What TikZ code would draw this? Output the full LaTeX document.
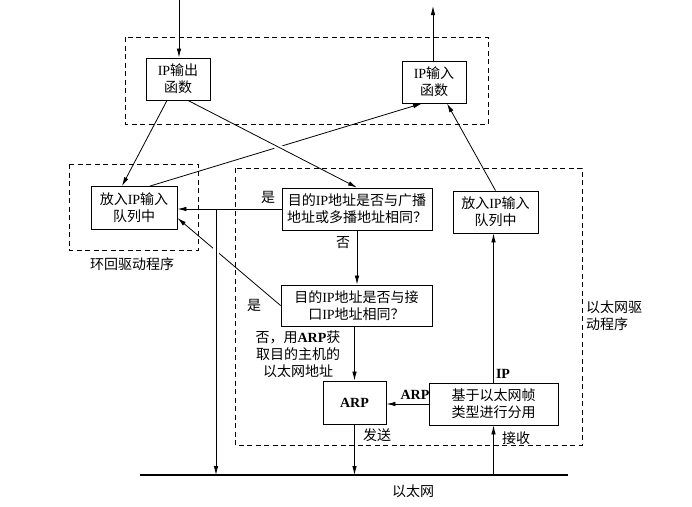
\documentclass[tikz,border=0pt]{standalone}
\usepackage{fontspec}
\setmainfont{Noto Sans CJK SC}
\newfontfamily\lt{Liberation Serif}
\usetikzlibrary{arrows.meta,calc}
\begin{document}
\begin{tikzpicture}[x=1pt,y=-1pt,
  font=\fontsize{14}{17}\selectfont,
  box/.style={draw,line width=0.9pt,align=center,inner sep=0pt},
  dbox/.style={draw,dashed,dash pattern=on 5pt off 3.5pt,line width=0.9pt},
  conn/.style={line width=0.8pt,-{Latex[length=9pt,width=4.5pt]}},
  gap/.style 2 args={preaction={draw=white,line width=6pt,-,shorten <=#1,shorten >=#2}},
  lbl/.style={inner sep=0pt}]
\useasboundingbox (0,0) rectangle (692,506);
% dashed groups
\draw[dbox] (125,37) rectangle (488,124);
\draw[dbox] (69,164) rectangle (198,250);
\draw[dbox] (235,168) rectangle (582,445);
% boxes
\node[box,minimum width=64pt,minimum height=42pt] (outf) at (178,79) {{\lt IP}输出\\函数};
\node[box,minimum width=64pt,minimum height=42pt] (inf) at (434,82) {{\lt IP}输入\\函数};
\node[box,minimum width=86pt,minimum height=43pt] (lq) at (134,208) {放入{\lt IP}输入\\队列中};
\node[box,minimum width=150pt,minimum height=42pt] (bc) at (357,209) {目的{\lt IP}地址是否与广播\\地址或多播地址相同？};
\node[box,minimum width=85pt,minimum height=42pt] (rq) at (495.5,212) {放入{\lt IP}输入\\队列中};
\node[box,minimum width=151pt,minimum height=41pt] (ifc) at (356.5,305.5) {目的{\lt IP}地址是否与接\\口{\lt IP}地址相同？};
\node[box,minimum width=63pt,minimum height=43pt] (arp) at (354.5,402.5) {\lt\bfseries ARP};
\node[box,minimum width=129pt,minimum height=42pt] (dm) at (493.5,404) {基于以太网帧\\类型进行分用};
% ethernet
\coordinate (ethL) at (140,475);
\coordinate (ethR) at (568,475);
\coordinate (inTop) at (179,0);
\coordinate (outTop) at (433,6);
\coordinate (j) at (216,209);
% connectors
\draw[conn] (inTop) -- (inTop |- outf.north);
\draw[conn] (inf.north -| outTop) -- (outTop);
\draw[conn] ([xshift=-11pt]outf.south) -- ([xshift=-12pt]lq.north);
\draw[conn] ([xshift=16pt]lq.north) -- ([xshift=-12pt]inf.south);
\draw[conn,gap={80pt}{70pt}] ([xshift=10pt]outf.south) -- (bc.north);
\draw[conn] (rq.north) -- ([xshift=13pt]inf.south);
\draw[conn] (ifc.west) -- ([yshift=-10pt]lq.east);
\draw[conn,gap={30pt}{200pt}] (j) -- (j |- ethL);
\draw[conn] (bc.west) -- (bc.west -| lq.east);
\draw[conn] (bc.south) -- (bc.south |- ifc.north);
\draw[conn] (arp.north |- ifc.south) -- (arp.north);
\draw[conn] (arp.south) -- (arp.south |- ethL);
\draw[conn] (dm.south |- ethL) -- (dm.south);
\draw[conn] (dm.north) -- (dm.north |- rq.south);
\draw[conn] (dm.west) -- (dm.west -| arp.east);
\draw[line width=2.4pt] (ethL) -- (ethR);
% labels
\node[lbl] (l1) at (268,197) {是};
\node[lbl] (l2) at (254,305) {是};
\node[lbl] (l3) at (343,243) {否};
\node[lbl,align=center] (l4) at (298,354) {否，用{\lt\bfseries ARP}获\\取目的主机的\\以太网地址};
\node[lbl] (l5) at (503,374) {\lt\bfseries IP};
\node[lbl] (l6) at (415,395) {\lt\bfseries ARP};
\node[lbl] (l7) at (377,435) {发送};
\node[lbl] (l8) at (516,438) {接收};
\node[lbl] (l9) at (413,491) {以太网};
\node[lbl] (l10) at (132,264) {环回驱动程序};
\node[lbl,align=left,anchor=west] (l11) at (586,316) {以太网驱\\动程序};
\end{tikzpicture}
\end{document}
